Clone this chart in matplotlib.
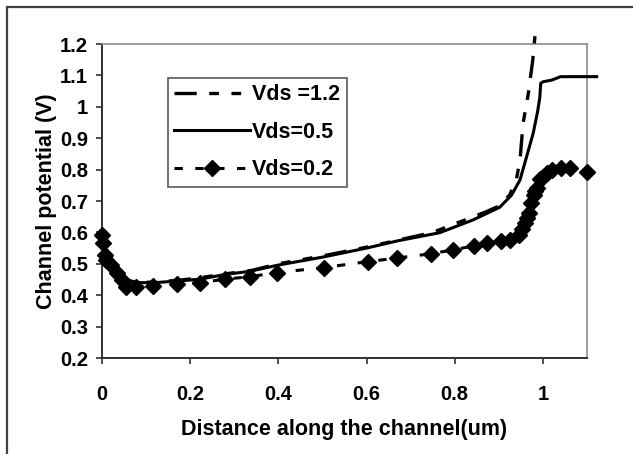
import matplotlib
matplotlib.use("Agg")
import matplotlib.pyplot as plt
from matplotlib.patches import Rectangle

plt.rcParams['font.family'] = ['Liberation Sans', 'DejaVu Sans']
plt.rcParams['font.weight'] = 'bold'
plt.rcParams['lines.scale_dashes'] = False

# Vds = 1.2 (dashed)
x_12 = [0, 0.01, 0.03, 0.05, 0.08, 0.12, 0.17, 0.22, 0.28, 0.34, 0.40, 0.50, 0.60,
        0.67, 0.75, 0.80, 0.87, 0.902, 0.925, 0.94, 0.948, 0.955, 0.967, 0.977, 0.982]
y_12 = [0.53, 0.50, 0.47, 0.45, 0.44, 0.442, 0.447, 0.455, 0.468, 0.479, 0.50, 0.525, 0.553,
        0.575, 0.60, 0.627, 0.665, 0.685, 0.72, 0.77, 0.83, 0.947, 1.043, 1.149, 1.225]

# Vds = 0.5 (solid)
x_05 = [0, 0.01, 0.03, 0.05, 0.08, 0.12, 0.17, 0.223, 0.279, 0.335, 0.40, 0.503, 0.603,
        0.67, 0.766, 0.842, 0.902, 0.929, 0.948, 0.963, 0.978, 0.988, 0.993, 0.995,
        1.001, 1.02, 1.04, 1.122]
y_05 = [0.52, 0.50, 0.47, 0.45, 0.44, 0.44, 0.445, 0.451, 0.466, 0.476, 0.496, 0.522, 0.551,
        0.573, 0.599, 0.64, 0.68, 0.719, 0.767, 0.841, 0.916, 0.985, 1.03, 1.075,
        1.08, 1.085, 1.096, 1.096]

# Vds = 0.2 (dashed with diamonds)
x_02 = [0, 0.003, 0.007, 0.01, 0.02, 0.035, 0.045, 0.055, 0.077, 0.115, 0.17, 0.223, 0.279,
        0.335, 0.397, 0.503, 0.603, 0.668, 0.746, 0.795, 0.843, 0.874, 0.904, 0.926, 0.945,
        0.952, 0.959, 0.964, 0.968, 0.974, 0.979, 0.983, 0.986, 0.994, 1.0, 1.009, 1.02,
        1.04, 1.062, 1.10]
y_02 = [0.592, 0.565, 0.528, 0.512, 0.496, 0.47, 0.448, 0.427, 0.426, 0.429, 0.435, 0.44, 0.451,
        0.459, 0.472, 0.488, 0.507, 0.518, 0.532, 0.544, 0.557, 0.565, 0.574, 0.576, 0.592,
        0.61, 0.629, 0.645, 0.661, 0.693, 0.719, 0.732, 0.74, 0.77, 0.778, 0.79, 0.80,
        0.805, 0.805, 0.793]

labels = ["Vds =1.2", "Vds=0.5", "Vds=0.2"]
x_ticks = [0, 0.2, 0.4, 0.6, 0.8, 1]
x_tick_labels = ["0", "0.2", "0.4", "0.6", "0.8", "1"]
y_ticks = [0.2, 0.3, 0.4, 0.5, 0.6, 0.7, 0.8, 0.9, 1.0, 1.1, 1.2]
y_tick_labels = ["0.2", "0.3", "0.4", "0.5", "0.6", "0.7", "0.8", "0.9", "1", "1.1", "1.2"]

W, H = 633, 454
fig = plt.figure(figsize=(W / 100, H / 100), dpi=100)
fig.patch.set_facecolor('white')

# outer frame (left & top visible)
fig.patches.append(Rectangle((7 / W, -0.05), 1.2, 1 - 7 / H + 0.05, transform=fig.transFigure,
                             fill=False, edgecolor='#404040', linewidth=1.6))

ax = fig.add_axes([102 / W, 1 - 358 / H, (587 - 102) / W, (358 - 44) / H])

l1, = ax.plot(x_12, y_12, color='black', linewidth=2.4, linestyle=(0, (16, 9, 7, 9, 7, 9)),
              clip_on=False, zorder=3)
l2, = ax.plot(x_05, y_05, color='black', linewidth=2.2, linestyle='-', clip_on=False, zorder=3)
l3, = ax.plot(x_02, y_02, color='black', linewidth=2.2, linestyle=(0, (6, 9)), marker='D',
              markersize=8.3, markerfacecolor='black', markeredgecolor='black', clip_on=False,
              zorder=4)

ax.set_xlim(0, 1.1)
ax.set_ylim(0.2, 1.2)
ax.set_xticks(x_ticks)
ax.set_xticklabels(x_tick_labels)
ax.set_yticks(y_ticks)
ax.set_yticklabels(y_tick_labels)

for s in ['top', 'right']:
    ax.spines[s].set_color('#8c8c8c')
    ax.spines[s].set_linewidth(1.2)
for s in ['left', 'bottom']:
    ax.spines[s].set_color('#303030')
    ax.spines[s].set_linewidth(1.4)

ax.tick_params(axis='y', direction='out', length=4, width=1.2, pad=6, labelsize=14.5,
               colors='#303030', labelcolor='black')
ax.tick_params(axis='x', direction='out', length=4, width=1.2, pad=15.5, labelsize=14.5,
               colors='#303030', labelcolor='black')
for t in ax.get_xticklabels() + ax.get_yticklabels():
    t.set_fontweight('bold')

fig.text(344 / W, 1 - 435 / H, "Distance along the channel(um)", fontsize=15.5,
         fontweight='bold', ha='center', va='baseline')
fig.text(52 / W, 1 - 201 / H, "Channel potential (V)", fontsize=15.5, fontweight='bold',
         rotation=90, rotation_mode='anchor', ha='center', va='baseline')

leg = ax.legend([l1, l2, l3], labels, loc='upper left',
                bbox_to_anchor=(168 / W, 1 - 78 / H), bbox_transform=fig.transFigure,
                fontsize=15.5, frameon=True, fancybox=False, shadow=False,
                handlelength=3.5, handletextpad=0.1, labelspacing=0.76, numpoints=1,
                borderpad=0.3, borderaxespad=0)
leg.get_frame().set_edgecolor('#303030')
leg.get_frame().set_linewidth(1.2)
for t in leg.get_texts():
    t.set_fontweight('bold')

fig.savefig("out.png", dpi=100)
